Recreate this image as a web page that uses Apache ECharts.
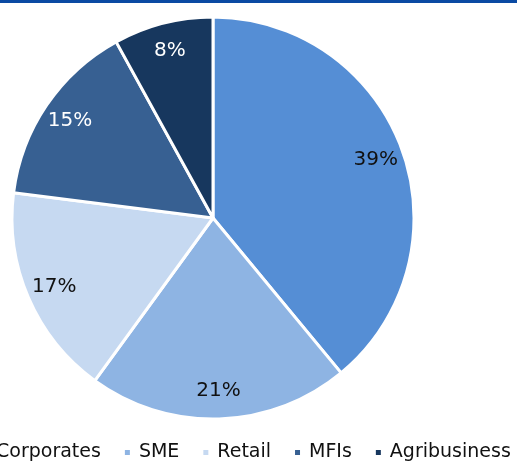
<!DOCTYPE html>
<html>
<head>
<meta charset="utf-8">
<script src="https://cdn.jsdelivr.net/npm/echarts@6/dist/echarts.min.js"></script>
<style>
  html, body { margin: 0; padding: 0; background: #fff; }
  #chart { width: 517px; height: 462px; }
</style>
</head>
<body>
<div id="chart"></div>
<script>
// Loan portfolio split by segment (percent)
const segments = ['Corporates', 'SME', 'Retail', 'MFIs', 'Agribusiness'];
const shares = [39, 21, 17, 15, 8];
const sliceColors = ['#558ed5', '#8eb4e3', '#c6d9f1', '#376092', '#17375e'];
const labelColors = ['#111', '#111', '#111', '#fff', '#fff'];

const FONT = '"DejaVu Sans", sans-serif';
const center = [213, 218];

const pieData = segments.map((name, i) => ({
  name,
  value: shares[i],
  itemStyle: { color: sliceColors[i] }
}));

// Label ring: a transparent pie twice the size so "inside" labels sit near the rim
const labelData = segments.map((name, i) => ({
  name,
  value: shares[i],
  itemStyle: { color: 'rgba(0,0,0,0)', borderWidth: 0 },
  label: { color: labelColors[i] }
}));

const chart = echarts.init(document.getElementById('chart'));
chart.setOption({
  animation: false,
  color: sliceColors,
  graphic: [{
    type: 'rect',
    shape: { x: 0, y: 0, width: 517, height: 3 },
    style: { fill: '#0a4aa3' },
    silent: true
  }],
  legend: {
    data: segments,
    top: 443,
    left: -20,
    padding: 0,
    icon: 'rect',
    itemWidth: 7,
    itemHeight: 7,
    itemGap: 22,
    textStyle: { fontFamily: FONT, fontSize: 19, color: '#111', padding: [0, 0, 0, 3] }
  },
  series: [
    {
      type: 'pie',
      center,
      radius: [0, 201],
      startAngle: 90,
      clockwise: true,
      data: pieData,
      itemStyle: { borderColor: '#fff', borderWidth: 3 },
      label: { show: false },
      labelLine: { show: false },
      emphasis: { disabled: true }
    },
    {
      type: 'pie',
      center,
      radius: [0, 340],
      startAngle: 90,
      clockwise: true,
      data: labelData,
      silent: true,
      legendHoverLink: false,
      label: {
        show: true,
        position: 'inside',
        formatter: '{c}%',
        fontFamily: FONT,
        fontSize: 20
      },
      labelLine: { show: false },
      emphasis: { disabled: true }
    }
  ]
});
</script>
</body>
</html>
